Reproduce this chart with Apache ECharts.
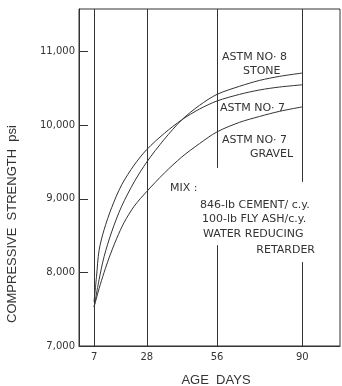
<!DOCTYPE html>
<html>
<head>
<meta charset="utf-8">
<style>
  html, body { margin: 0; padding: 0; background: #fff; }
  #main { width: 342px; height: 386px; }
</style>
<script src="https://cdn.jsdelivr.net/npm/echarts@6/dist/echarts.min.js"></script>
</head>
<body>
<div id="main"></div>
<script>
// strength gain curves (psi)
var stoneDays = [7, 9, 11, 14, 18, 23, 28, 35, 42, 49, 56, 65, 73, 81, 90];
var stoneVals = [7530, 7900, 8215, 8550, 8900, 9230, 9500, 9810, 10075, 10270, 10420, 10530, 10610, 10665, 10710];

var no7Days = [7, 8, 9, 11, 14, 18, 23, 28, 35, 42, 49, 56, 65, 73, 81, 90];
var no7Vals = [7600, 7950, 8300, 8580, 8880, 9190, 9460, 9670, 9890, 10075, 10220, 10330, 10420, 10480, 10520, 10550];

var gravelDays = [7, 9, 11, 13, 16, 19, 23, 28, 35, 42, 49, 56, 65, 73, 81, 90];
var gravelVals = [7530, 7780, 8000, 8200, 8460, 8680, 8900, 9100, 9350, 9570, 9750, 9910, 10040, 10120, 10190, 10250];

// age lines and the y ticks
var ageTicks = [7, 28, 56, 90];
var strengthTicks = [7000, 8000, 9000, 10000, 11000];
// gaps left in the age lines where the mix note sits
var lineGaps = { 56: [8370, 9420], 90: [8140, 9230] };

var yMin = 7000, yMax = 11580;
var ink = '#333';

function pairs(xs, ys) {
  var out = [];
  for (var i = 0; i < xs.length; i++) out.push([xs[i], ys[i]]);
  return out;
}

// vertical age lines as markLine segments
var ageLines = [];
ageTicks.forEach(function (d) {
  var gap = lineGaps[d];
  if (gap) {
    ageLines.push([{ coord: [d, yMin] }, { coord: [d, gap[0]] }]);
    ageLines.push([{ coord: [d, gap[1]] }, { coord: [d, yMax] }]);
  } else {
    ageLines.push([{ coord: [d, yMin] }, { coord: [d, yMax] }]);
  }
});

function curve(name, data) {
  return {
    name: name,
    type: 'line',
    data: data,
    smooth: 0.3,
    showSymbol: false,
    silent: true,
    lineStyle: { color: ink, width: 1 },
    animation: false
  };
}

var series = [
  curve('ASTM NO. 8 STONE', pairs(stoneDays, stoneVals)),
  curve('ASTM NO. 7', pairs(no7Days, no7Vals)),
  curve('ASTM NO. 7 GRAVEL', pairs(gravelDays, gravelVals))
];
series[0].markLine = {
  silent: true,
  symbol: ['none', 'none'],
  label: { show: false },
  lineStyle: { color: ink, width: 1, type: 'solid' },
  animation: false,
  data: ageLines
};

var labelFont = '11px "DejaVu Sans"';
function note(text, x, y, align) {
  return {
    type: 'text',
    x: x,
    y: y,
    style: {
      text: text,
      font: labelFont,
      fill: ink,
      textAlign: align || 'left',
      textVerticalAlign: 'middle'
    }
  };
}

var chart = echarts.init(document.getElementById('main'));
chart.setOption({
  backgroundColor: '#fff',
  animation: false,
  grid: {
    left: 79, right: 2, top: 9, bottom: 40,
    show: true, borderColor: ink, borderWidth: 1
  },
  xAxis: {
    type: 'value',
    min: 1,
    max: 105,
    splitLine: { show: false },
    axisLine: { show: true, lineStyle: { color: ink } },
    axisTick: { show: false },
    axisLabel: {
      customValues: ageTicks,
      color: ink,
      fontSize: 10,
      fontFamily: 'DejaVu Sans',
      margin: 6
    }
  },
  yAxis: {
    type: 'value',
    min: yMin,
    max: yMax,
    splitLine: { show: false },
    axisLine: { show: true, lineStyle: { color: ink } },
    axisTick: {
      show: true, inside: true, length: 9,
      customValues: strengthTicks,
      lineStyle: { color: ink }
    },
    axisLabel: {
      customValues: strengthTicks,
      color: ink,
      fontSize: 10,
      fontFamily: 'DejaVu Sans',
      margin: 4,
      formatter: function (v) {
        return String(v).replace(/\B(?=(\d{3})+(?!\d))/g, ',');
      }
    }
  },
  graphic: [
    {
      type: 'text', x: 12, y: 224, rotation: Math.PI / 2,
      style: {
        text: 'COMPRESSIVE  STRENGTH  psi',
        font: '13px "Liberation Sans"', fill: ink,
        textAlign: 'center', textVerticalAlign: 'middle'
      }
    },
    {
      type: 'text', x: 216, y: 380,
      style: {
        text: 'AGE  DAYS',
        font: '13px "Liberation Sans"', fill: ink,
        textAlign: 'center', textVerticalAlign: 'middle'
      }
    },
    note('ASTM NO\u00b7 8', 222, 57),
    note('STONE', 243, 71),
    note('ASTM NO\u00b7 7', 220, 108),
    note('ASTM NO\u00b7 7', 222, 140),
    note('GRAVEL', 250, 154),
    note('MIX :', 170, 188),
    note('846-lb CEMENT/ c.y.', 200, 205),
    note('100-lb FLY ASH/c.y.', 202, 219),
    note('WATER REDUCING', 203, 234),
    note('RETARDER', 315, 250, 'right')
  ],
  series: series
});
</script>
</body>
</html>
